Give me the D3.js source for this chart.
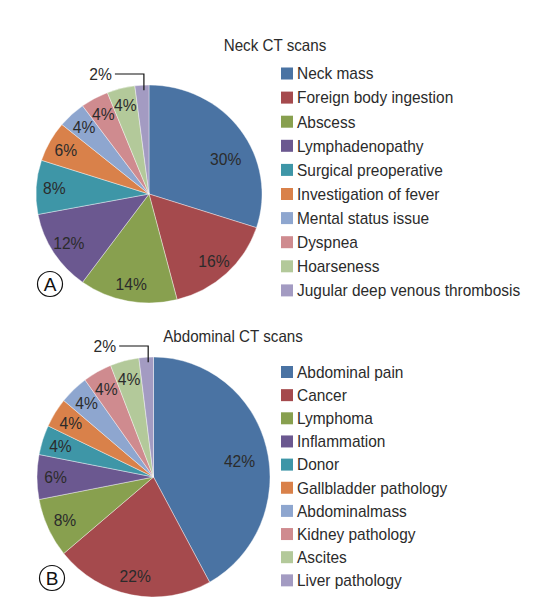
<!DOCTYPE html>
<html><head><meta charset="utf-8">
<script src="https://cdn.jsdelivr.net/npm/d3@7"></script>
<style>
html,body{margin:0;padding:0;background:#fff;}
svg text{font-family:"Liberation Sans",Arial,sans-serif;fill:#2b2b2b;}
</style></head>
<body>
<svg id="chart" width="548" height="602"></svg>
<script>
const neckCategories = ["Neck mass","Foreign body ingestion","Abscess","Lymphadenopathy","Surgical preoperative","Investigation of fever","Mental status issue","Dyspnea","Hoarseness","Jugular deep venous thrombosis"];
const neckValues = [30,16,14,12,8,6,4,4,4,2];
const abdCategories = ["Abdominal pain","Cancer","Lymphoma","Inflammation","Donor","Gallbladder pathology","Abdominalmass","Kidney pathology","Ascites","Liver pathology"];
const abdValues = [42,22,8,6,4,4,4,4,4,2];
const colors = ["#4a73a3","#a54a4d","#88a04f","#6b5890","#3e96a7","#d9814a","#8ea6cf","#cf8b8f","#b3c99a","#a39bc2"];
const titles = ["Neck CT scans","Abdominal CT scans"];
const panelLetters = ["A","B"];

const svg = d3.select("#chart");
const SX = 0.92; // horizontal condensing of text

function ctext(parent, x, y, str, size, anchor){
  return parent.append("g").attr("transform",`translate(${x},${y}) scale(${SX},1)`)
    .append("text").attr("dy","0.35em").attr("font-size",size).attr("text-anchor",anchor||"start").text(str);
}

function drawPanel(cfg){
  const {cats, vals, title, letter, cx, cy, rx, ry, titleX, titleY, legX, legY, legStep, badge} = cfg;
  const sx = rx/ry;
  const pie = d3.pie().sort(null).value(d=>d)(vals);
  const arc = d3.arc().innerRadius(0).outerRadius(ry);
  const color = d3.scaleOrdinal().domain(cats).range(colors);

  const g = svg.append("g").attr("transform",`translate(${cx},${cy}) scale(${sx},1)`);
  g.selectAll("path").data(pie).join("path")
    .attr("d",arc)
    .attr("fill",(d,i)=>color(cats[i]))
    .attr("stroke","#ffffff").attr("stroke-width",0.4).attr("vector-effect","non-scaling-stroke");

  const lg = svg.append("g").attr("transform",`translate(${cx},${cy})`);
  const n = vals.length;
  pie.forEach((d,i)=>{
    const mid = (d.startAngle+d.endAngle)/2;
    if(i===n-1){
      const ox = Math.sin(mid)*rx, oy = -Math.cos(mid)*ry;
      const ly = -ry-11;
      lg.append("polyline")
        .attr("points",`${ox-27},${ly} ${ox+2},${ly} ${ox+2},${oy+5}`)
        .attr("fill","none").attr("stroke","#111").attr("stroke-width",1.2);
      ctext(lg, ox-30, ly, vals[i]+"%", 17, "end");
    } else {
      // best-fit style: large slices pull their label toward the horizontal
      const big = (d.endAngle-d.startAngle) > Math.PI/2;
      const a = big ? mid + (Math.PI/2 - mid)*0.3 : mid;
      const rr = big ? 0.75 : 0.84;
      const lx = Math.sin(a)*rx*rr, ly = -Math.cos(a)*ry*rr;
      ctext(lg, lx, ly, vals[i]+"%", 17, "middle");
    }
  });

  ctext(svg, titleX, titleY, title, 16.5, "middle");

  const leg = svg.append("g");
  cats.forEach((c,i)=>{
    const y = legY + i*legStep;
    leg.append("rect").attr("x",legX).attr("y",y-6).attr("width",12).attr("height",12).attr("fill",color(c));
    ctext(leg, legX+16, y, c, 16.8, "start");
  });

  svg.append("circle").attr("cx",badge[0]).attr("cy",badge[1]).attr("r",12.5)
    .attr("fill","none").attr("stroke","#111").attr("stroke-width",1.2);
  svg.append("text").attr("x",badge[0]).attr("y",badge[1]+0.5).attr("dy","0.36em")
    .attr("text-anchor","middle").attr("font-size",19)
    .style("fill","#111").text(letter);
}

drawPanel({cats:neckCategories, vals:neckValues, title:titles[0], letter:panelLetters[0],
  cx:149, cy:194, rx:113, ry:109, titleX:275, titleY:45, legX:281, legY:73.5, legStep:24.1, badge:[50,284]});
drawPanel({cats:abdCategories, vals:abdValues, title:titles[1], letter:panelLetters[1],
  cx:153.5, cy:477, rx:116.5, ry:120, titleX:233, titleY:336, legX:281, legY:372, legStep:23.15, badge:[52,578]});
</script>
</body></html>
